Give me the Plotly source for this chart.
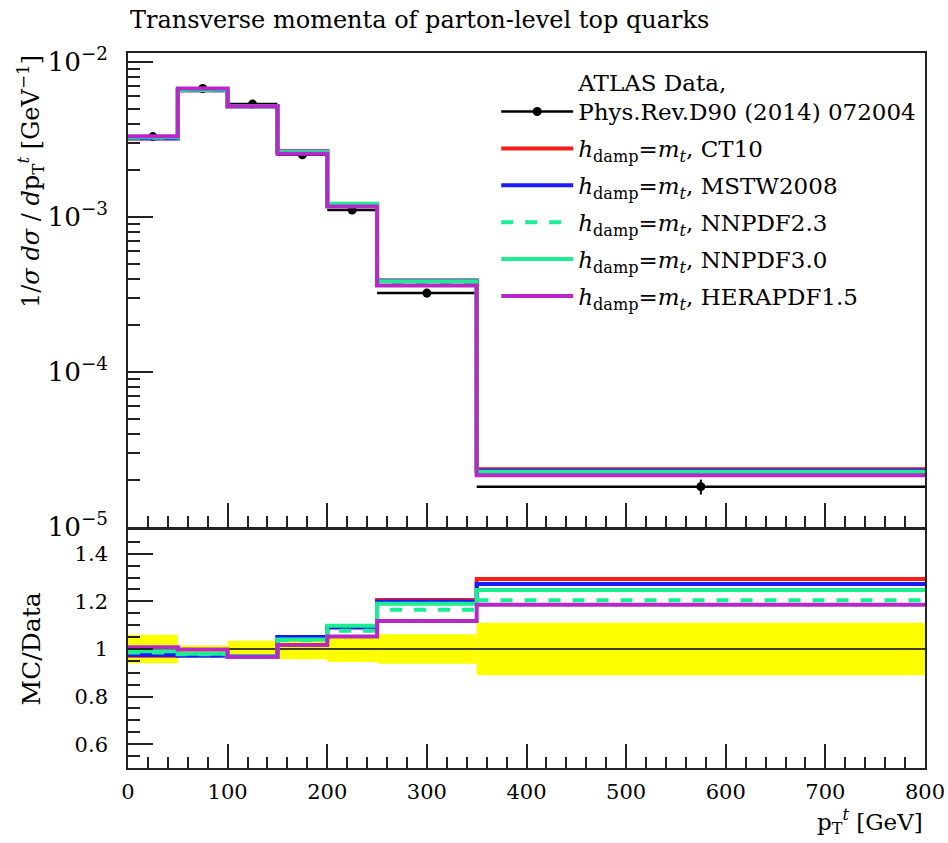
import plotly.graph_objects as go

# ---- binned data -------------------------------------------------------
bin_edges = [0, 50, 100, 150, 200, 250, 350, 800]

# ATLAS unfolded parton-level top pT, normalised [GeV^-1]
data_vals = [3.30e-3, 6.75e-3, 5.35e-3, 2.52e-3, 1.11e-3, 3.23e-4, 1.82e-5]
data_rel_err = [0.06, 0.015, 0.035, 0.043, 0.055, 0.062, 0.11]

# Powheg+Pythia predictions (hdamp = mt) for several PDF sets
mc_ct10 = [3.208e-3, 6.581e-3, 5.179e-3, 2.641e-3, 1.212e-3, 3.895e-4, 2.355e-5]
mc_mstw = [3.218e-3, 6.561e-3, 5.179e-3, 2.646e-3, 1.210e-3, 3.876e-4, 2.317e-5]
mc_nnpdf23 = [3.251e-3, 6.602e-3, 5.190e-3, 2.616e-3, 1.195e-3, 3.763e-4, 2.193e-5]
mc_nnpdf30 = [3.267e-3, 6.615e-3, 5.190e-3, 2.621e-3, 1.218e-3, 3.844e-4, 2.271e-5]
mc_hera = [3.323e-3, 6.737e-3, 5.173e-3, 2.563e-3, 1.168e-3, 3.611e-4, 2.159e-5]

series_labels = ["CT10", "MSTW2008", "NNPDF2.3", "NNPDF3.0", "HERAPDF1.5"]
series_colors = ["#ff1a1a", "#1a1aff", "#1aee90", "#1aee90", "#b828c8"]
series_dash = ["solid", "solid", "dash", "solid", "solid"]
series_vals = [mc_ct10, mc_mstw, mc_nnpdf23, mc_nnpdf30, mc_hera]

FONT = "DejaVu Serif"
FS_TICK = 21
FS_LAB = 24
FS_LEG = 23

centers = [(a + b) / 2 for a, b in zip(bin_edges[:-1], bin_edges[1:])]
half_w = [(b - a) / 2 for a, b in zip(bin_edges[:-1], bin_edges[1:])]
widths = [b - a for a, b in zip(bin_edges[:-1], bin_edges[1:])]


def steps(vals):
    return list(bin_edges), list(vals) + [vals[-1]]


fig = go.Figure()

# ---- upper panel: data points ----
fig.add_trace(go.Scatter(
    x=centers, y=data_vals, mode="markers",
    marker=dict(color="black", size=9),
    error_x=dict(type="data", array=half_w, width=0, thickness=2.5, color="black"),
    error_y=dict(type="data", array=[v * e for v, e in zip(data_vals, data_rel_err)],
                 width=0, thickness=2, color="black"),
    showlegend=False, xaxis="x", yaxis="y",
))
# legend entry for the data (line with dot)
fig.add_trace(go.Scatter(
    x=[None], y=[None], mode="lines+markers",
    line=dict(color="black", width=2.5), marker=dict(color="black", size=9),
    name="ATLAS Data,<br>Phys.Rev.D90 (2014) 072004",
    legendgroup="data", xaxis="x", yaxis="y",
))

# ---- upper panel: MC histograms ----
for lab, col, dash, vals in zip(series_labels, series_colors, series_dash, series_vals):
    xs, ys = steps(vals)
    fig.add_trace(go.Scatter(
        x=xs, y=ys, mode="lines", line=dict(color=col, width=4, dash=dash, shape="hv"),
        name="<i>h</i><sub>damp</sub>=<i>m</i><sub><i>t</i></sub>, " + lab,
        legendgroup=lab, xaxis="x", yaxis="y",
    ))

# ---- ratio panel: data uncertainty band ----
fig.add_trace(go.Bar(
    x=centers, y=[2 * e for e in data_rel_err], base=[1 - e for e in data_rel_err],
    width=widths, marker=dict(color="#ffff00", line=dict(width=0)),
    showlegend=False, xaxis="x2", yaxis="y2", hoverinfo="skip",
))
xs, ys = steps([v / v for v in data_vals])
fig.add_trace(go.Scatter(
    x=xs, y=ys, mode="lines", line=dict(color="black", width=1.5, shape="hv"),
    showlegend=False, xaxis="x2", yaxis="y2",
))
for lab, col, dash, vals in zip(series_labels, series_colors, series_dash, series_vals):
    xs, ys = steps([m / d for m, d in zip(vals, data_vals)])
    fig.add_trace(go.Scatter(
        x=xs, y=ys, mode="lines", line=dict(color=col, width=4, dash=dash, shape="hv"),
        showlegend=False, xaxis="x2", yaxis="y2",
    ))

tickfont = dict(family=FONT, size=FS_TICK, color="black")
common_x = dict(range=[0, 800], showgrid=False, zeroline=False, showline=True,
                linecolor="#222", linewidth=1.6, mirror=True, automargin=False,
                ticks="inside", ticklen=24, tickwidth=1.5, tickcolor="#222",
                dtick=100, tick0=0,
                minor=dict(ticks="inside", ticklen=11, tickwidth=1.5, tickcolor="#222", dtick=20))

fig.update_layout(
    width=948, height=843,
    margin=dict(l=128, r=23, t=53, b=75, autoexpand=False),
    paper_bgcolor="white", plot_bgcolor="white",
    barmode="overlay",
    font=dict(family=FONT, size=FS_TICK, color="black"),
    xaxis=dict(common_x, anchor="y", domain=[0, 1], showticklabels=False),
    xaxis2=dict(common_x, anchor="y2", domain=[0, 1], tickfont=tickfont,
                ticklabelstandoff=4),
    yaxis=dict(type="log", range=[-5, -1.942], domain=[0.3371, 1], anchor="x",
               automargin=False,
               showgrid=False, zeroline=False, showline=True, linecolor="#222",
               linewidth=1.6, mirror=True, ticks="inside", ticklen=25, tickwidth=1.5,
               tickcolor="#222", dtick=1, exponentformat="power", tickfont=tickfont,
               ticklabelstandoff=14,
               minor=dict(ticks="inside", ticklen=12, tickwidth=1.5, tickcolor="#222",
                          dtick="D1")),
    yaxis2=dict(range=[0.5, 1.5], domain=[0, 0.3329], anchor="x2", automargin=False,
                showgrid=False, zeroline=False, showline=True, linecolor="#222",
                linewidth=1.6, mirror=True, ticks="inside", ticklen=25, tickwidth=1.5,
                tickcolor="#222", tickvals=[0.6, 0.8, 1.0, 1.2, 1.4],
                ticktext=["0.6", "0.8", "1", "1.2", "1.4"], tickfont=tickfont,
                ticklabelstandoff=14,
                minor=dict(ticks="inside", ticklen=12, tickwidth=1.5, tickcolor="#222",
                           dtick=0.05, tick0=0.5)),
    legend=dict(x=0.462, y=0.99, xanchor="left", yanchor="top",
                bgcolor="rgba(0,0,0,0)", font=dict(family=FONT, size=FS_LEG, color="black"),
                valign="bottom", tracegroupgap=4, itemwidth=72),
    annotations=[
        dict(text="Transverse momenta of parton-level top quarks", xref="paper",
             yref="paper", x=0, y=1, xanchor="left", yanchor="bottom", yshift=17,
             showarrow=False, font=dict(family=FONT, size=24, color="black")),
        dict(text="1/<i>σ</i> <i>dσ</i> / <i>d</i>p<sub>T</sub><sup><i>t</i></sup> [GeV<sup>−1</sup>]",
             xref="paper", yref="paper", x=0, y=1, xanchor="right", yanchor="top",
             xshift=-78, textangle=-90, showarrow=False,
             font=dict(family=FONT, size=FS_LAB, color="black")),
        dict(text="MC/Data", xref="paper", yref="paper", x=0, y=0.1665,
             xanchor="right", yanchor="middle", xshift=-80, textangle=-90,
             showarrow=False, font=dict(family=FONT, size=25, color="black")),
        dict(text="p<sub>T</sub><sup><i>t</i></sup> [GeV]", xref="paper", yref="paper",
             x=1, y=0, xanchor="right", yanchor="top", yshift=-35, showarrow=False,
             font=dict(family=FONT, size=23, color="black")),
    ],
)

fig.write_html("out.html")
